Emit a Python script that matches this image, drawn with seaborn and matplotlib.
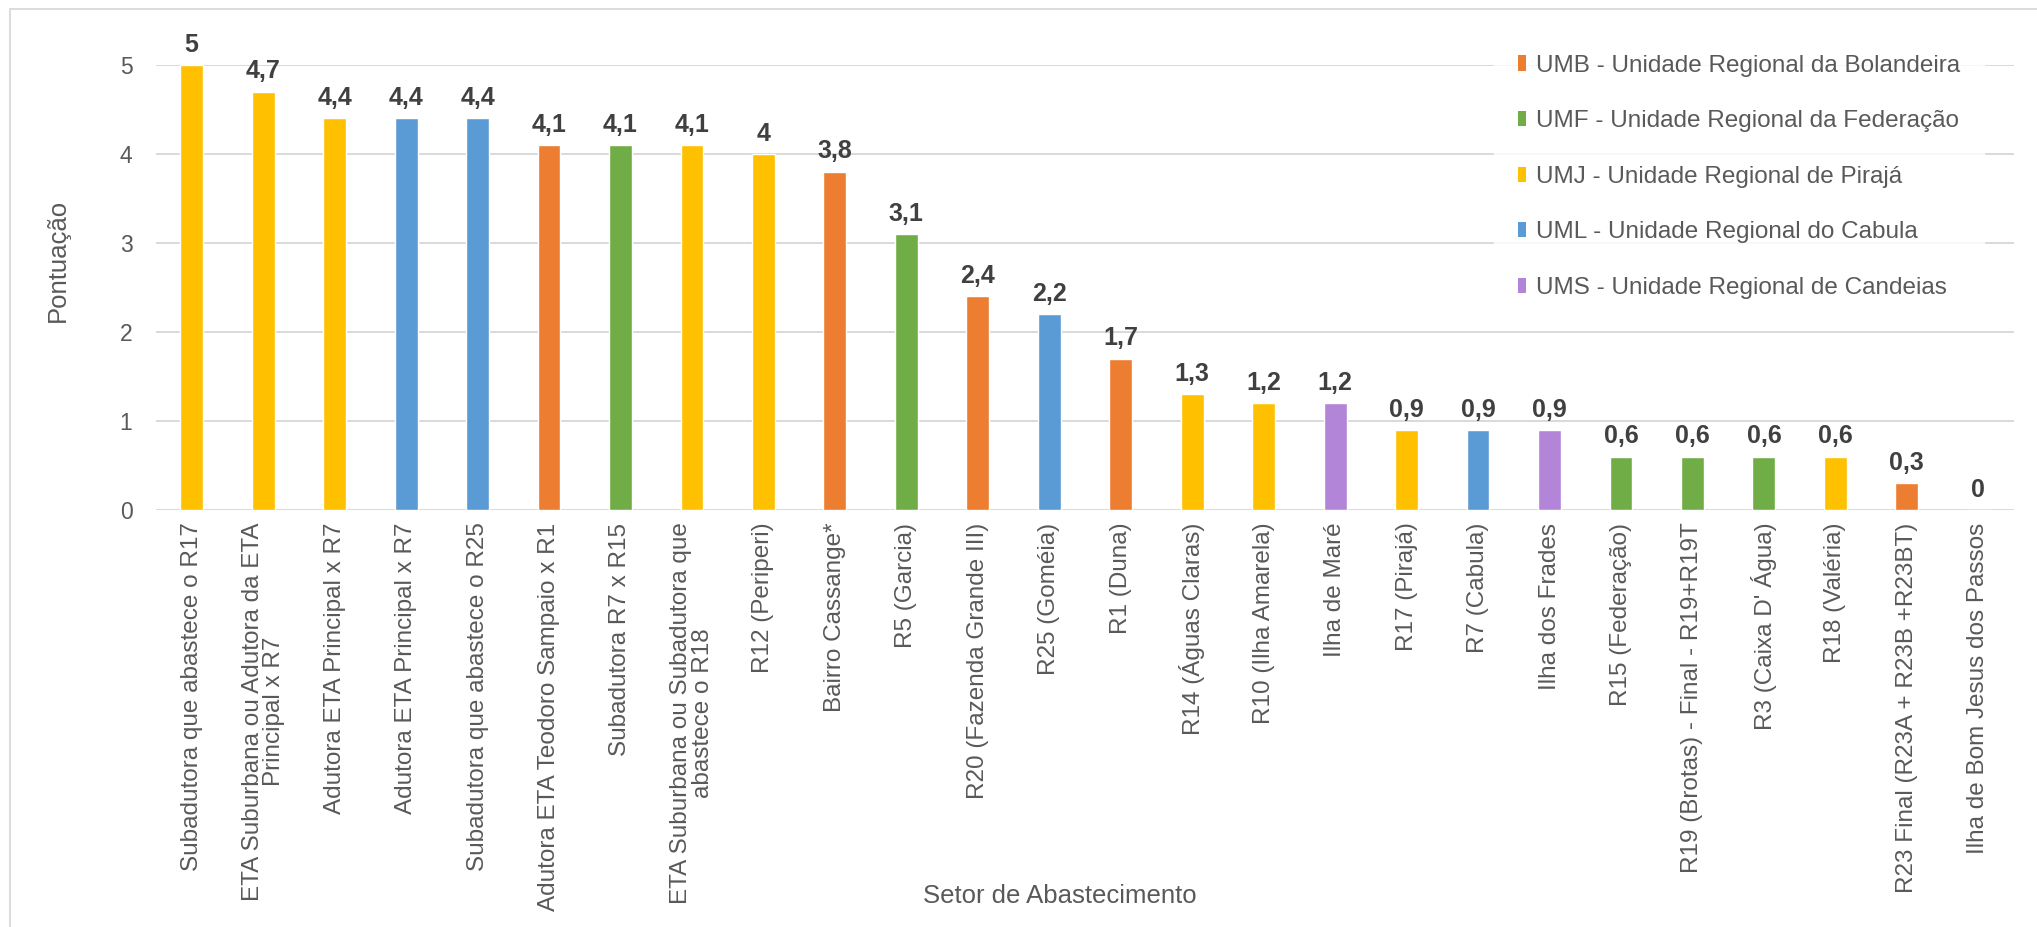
import matplotlib
matplotlib.use("Agg")
import matplotlib.pyplot as plt
from matplotlib.patches import Rectangle, Patch
import seaborn as sns
import pandas as pd

# Supply sectors, ordered by score
sectors = [
    "Subadutora que abastece o R17",
    "ETA Suburbana ou Adutora da ETA\nPrincipal x R7",
    "Adutora ETA Principal x R7",
    "Adutora ETA Principal x R7 ",
    "Subadutora que abastece o R25",
    "Adutora ETA Teodoro Sampaio x R1",
    "Subadutora R7 x R15",
    "ETA Suburbana ou Subadutora que\nabastece o R18",
    "R12 (Periperi)",
    "Bairro Cassange*",
    "R5 (Garcia)",
    "R20 (Fazenda Grande III)",
    "R25 (Goméia)",
    "R1 (Duna)",
    "R14 (Águas Claras)",
    "R10 (Ilha Amarela)",
    "Ilha de Maré",
    "R17 (Pirajá)",
    "R7 (Cabula)",
    "Ilha dos Frades",
    "R15 (Federação)",
    "R19 (Brotas) - Final - R19+R19T",
    "R3 (Caixa D' Água)",
    "R18 (Valéria)",
    "R23 Final (R23A + R23B +R23BT)",
    "Ilha de Bom Jesus dos Passos",
]
scores = [5, 4.7, 4.4, 4.4, 4.4, 4.1, 4.1, 4.1, 4.0, 3.8, 3.1, 2.4, 2.2, 1.7,
          1.3, 1.2, 1.2, 0.9, 0.9, 0.9, 0.6, 0.6, 0.6, 0.6, 0.3, 0.0]
units = ["UMJ", "UMJ", "UMJ", "UML", "UML", "UMB", "UMF", "UMJ", "UMJ", "UMB",
         "UMF", "UMB", "UML", "UMB", "UMJ", "UMJ", "UMS", "UMJ", "UML", "UMS",
         "UMF", "UMF", "UMF", "UMJ", "UMB", "UMB"]

unit_codes = ["UMB", "UMF", "UMJ", "UML", "UMS"]
unit_names = [
    "UMB - Unidade Regional da Bolandeira",
    "UMF - Unidade Regional da Federação",
    "UMJ - Unidade Regional de Pirajá",
    "UML - Unidade Regional do Cabula",
    "UMS - Unidade Regional de Candeias",
]
unit_colors = ["#ED7D31", "#70AD47", "#FFC000", "#5B9BD5", "#B385D9"]

df = pd.DataFrame({"setor": sectors, "pontuacao": scores, "unidade": units})

sns.set_theme(style="white")
plt.rcParams["font.family"] = ["Liberation Sans", "DejaVu Sans"]

text_gray = "#595959"
grid_gray = "#D9D9D9"
W, H = 2037, 927
AX_L, AX_R, AX_T, AX_B = 156, 2014, 65, 510

fig = plt.figure(figsize=(W / 100, H / 100), dpi=100)
ax = fig.add_axes([AX_L / W, 1 - AX_B / H, (AX_R - AX_L) / W, (AX_B - AX_T) / H])

sns.barplot(
    data=df, x="setor", y="pontuacao", hue="unidade",
    hue_order=unit_codes, palette=dict(zip(unit_codes, unit_colors)),
    dodge=False, width=0.32, saturation=1, legend=False, ax=ax,
)

ax.set_ylim(0, 5)
ax.set_xlim(-0.5, len(sectors) - 0.5)
ax.set_yticks([0, 1, 2, 3, 4, 5])
ax.yaxis.grid(True, color=grid_gray, linewidth=1.4)
ax.set_axisbelow(True)
for s in ax.spines.values():
    s.set_visible(False)

ax.tick_params(axis="y", length=0, pad=17, labelsize=16.5, labelcolor=text_gray)
ax.tick_params(axis="x", length=0, pad=9)
ax.set_xticks(range(len(sectors)))
ax.set_xticklabels([s.strip() for s in sectors], rotation=90, ha="center",
                   va="top", multialignment="center", linespacing=0.95,
                   fontsize=17.5, color=text_gray)

ax.set_ylabel("")
ax.set_xlabel("")
fig.text(58 / W, 1 - 260 / H, "Pontuação", rotation=90, ha="center",
         va="center", fontsize=18.5, color=text_gray)
fig.text(1060 / W, 1 - 896 / H, "Setor de Abastecimento", ha="center",
         va="center", fontsize=18.5, color=text_gray)

# Value labels above each bar
for i, v in enumerate(scores):
    ax.annotate(f"{v:g}".replace(".", ","), xy=(i, v), xytext=(0, 6),
                textcoords="offset points", ha="center", va="bottom",
                fontsize=18, fontweight="bold", color="#404040",
                annotation_clip=False)

handles = [Patch(facecolor=c, edgecolor="none") for c in unit_colors]
leg = ax.legend(handles, unit_names, loc="upper left",
                bbox_to_anchor=((1494 - AX_L) / (AX_R - AX_L), 1.078),
                frameon=True, fontsize=17.5,
                labelspacing=1.38, handletextpad=0.4, handlelength=0.33,
                handleheight=0.58, borderaxespad=0, borderpad=1.0)
leg.get_frame().set_facecolor("white")
leg.get_frame().set_edgecolor("white")
for t in leg.get_texts():
    t.set_color(text_gray)

# Thin chart-area border
fig.add_artist(Rectangle((10 / W, -0.01), 1.02, 1 - 9 / H + 0.01,
                         transform=fig.transFigure, fill=False,
                         edgecolor=grid_gray, linewidth=1.3))

fig.savefig("out.png", dpi=100, facecolor="white")
